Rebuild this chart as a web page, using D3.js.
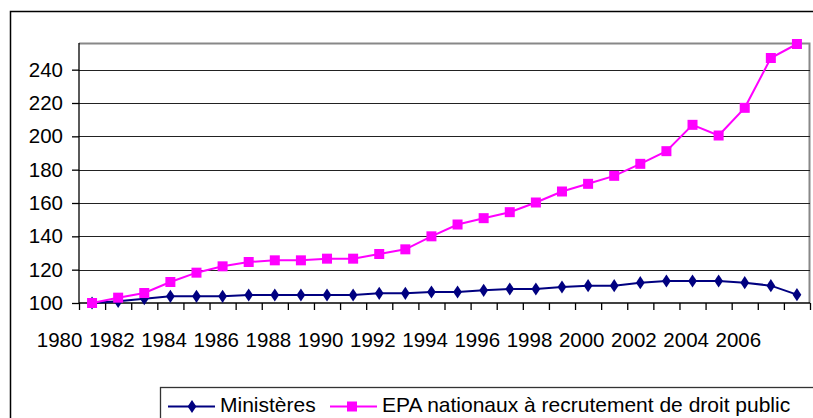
<!DOCTYPE html>
<html>
<head>
<meta charset="utf-8">
<title>Ministères / EPA</title>
<script src="https://cdn.jsdelivr.net/npm/d3@7"></script>
<style>
  body { margin: 0; background: #fff; }
  svg text { font-family: "Liberation Sans", Arial, sans-serif; fill: #000; }
</style>
</head>
<body>
<div id="chart"></div>
<script>
// categories (one per year)
var years = d3.range(1980, 2008);
// tick labels shown under the axis (every other year)
var yearLabels = years.filter(function(y, i) { return i % 2 == 0; });
var yTicks = [100, 120, 140, 160, 180, 200, 220, 240];

// series, index 100 at start
var ministeres = [100, 101, 102.6, 104, 104, 104, 104.8, 104.8, 104.8, 104.8, 104.8, 105.8, 105.8, 106.6,
  106.6, 107.6, 108.4, 108.4, 109.6, 110.4, 110.4, 112.2, 113.2, 113.2, 113.2, 112.2, 110.4, 105];
var epa = [100, 103.2, 106, 112.6, 118.2, 122, 124.6, 125.6, 125.6, 126.6, 126.6, 129.4, 132.2, 140,
  147.1, 150.9, 154.5, 160.3, 166.9, 171.5, 176.3, 183.5, 191.1, 206.9, 200.5, 217.1, 247, 255.4];
var seriesNames = ["Ministères", "EPA nationaux à recrutement de droit public"];

var W = 813, H = 418;
var pLeft = 79, pRight = 810, pTop = 43, pBottom = 303;

var svg = d3.select("#chart").append("svg")
  .attr("width", W).attr("height", H);

// outer frame of the chart object
svg.append("rect")
  .attr("x", 10.5).attr("y", 11.5)
  .attr("width", 840).attr("height", 440)
  .attr("fill", "none").attr("stroke", "#000").attr("stroke-width", 1.5);

var x = d3.scaleBand().domain(years).range([pLeft, pRight]);
var xEdge = d3.scaleLinear().domain([0, years.length]).range([pLeft, pRight]);
var y = d3.scaleLinear().domain([100, 256]).range([pBottom, pTop]);

function cx(d, i) { return x(years[i]) + x.bandwidth() / 2; }

// plot area border (grey on top / right)
svg.append("path")
  .attr("d", "M" + pLeft + "," + (pTop + 0.5) + "H" + (pRight - 0.5) + "V" + pBottom)
  .attr("fill", "none").attr("stroke", "#888").attr("stroke-width", 2);

// gridlines
svg.append("g").selectAll("line")
  .data(yTicks.slice(1))
  .join("line")
  .attr("x1", pLeft).attr("x2", pRight)
  .attr("y1", function(d) { return Math.round(y(d)) + 0.5; })
  .attr("y2", function(d) { return Math.round(y(d)) + 0.5; })
  .attr("stroke", "#222").attr("stroke-width", 1);

// y axis
var yAxis = svg.append("g")
  .attr("transform", "translate(" + pLeft + ",0)")
  .call(d3.axisLeft(y).tickValues(yTicks).tickSize(7).tickPadding(9));
yAxis.selectAll("text").style("font-size", "20.5px");
yAxis.selectAll("path, line").attr("stroke", "#000").attr("stroke-width", 1.3);
yAxis.select(".domain").attr("d", "M0," + pTop + "V" + pBottom);

// x axis: ticks between categories
var xAxis = svg.append("g")
  .attr("transform", "translate(0," + pBottom + ")")
  .call(d3.axisBottom(xEdge).tickValues(d3.range(years.length + 1)).tickSize(7).tickFormat(""));
xAxis.selectAll("path, line").attr("stroke", "#000").attr("stroke-width", 1.3);
xAxis.select(".domain").attr("d", "M" + pLeft + ",0H" + pRight);

// x labels
var xLab = svg.append("g")
  .attr("transform", "translate(0," + pBottom + ")")
  .call(d3.axisBottom(x).tickValues(yearLabels).tickSize(0).tickPadding(29));
xLab.select(".domain").remove();
xLab.selectAll("text").style("font-size", "20.5px").attr("dx", -32.5);

var line = d3.line().x(cx).y(function(d) { return y(d); });

// Ministères
svg.append("path").datum(ministeres)
  .attr("d", line).attr("fill", "none")
  .attr("stroke", "#000080").attr("stroke-width", 2);
svg.append("g").selectAll("path")
  .data(ministeres).join("path")
  .attr("d", d3.symbol(d3.symbolDiamond, 50))
  .attr("transform", function(d, i) { return "translate(" + cx(d, i) + "," + y(d) + ") scale(1.15,1)"; })
  .attr("fill", "#000080");

// EPA
svg.append("path").datum(epa)
  .attr("d", line).attr("fill", "none")
  .attr("stroke", "#ff00ff").attr("stroke-width", 2);
svg.append("g").selectAll("rect")
  .data(epa).join("rect")
  .attr("x", function(d, i) { return cx(d, i) - 5; })
  .attr("y", function(d) { return y(d) - 5; })
  .attr("width", 10).attr("height", 10)
  .attr("fill", "#ff00ff");

// legend
var lg = svg.append("g");
lg.append("rect")
  .attr("x", 160.5).attr("y", 387.5)
  .attr("width", 700).attr("height", 60)
  .attr("fill", "#fff").attr("stroke", "#333").attr("stroke-width", 1.3);

var legendItems = [
  { name: seriesNames[0], color: "#000080", x: 168, sym: "diamond" },
  { name: seriesNames[1], color: "#ff00ff", x: 330, sym: "square" }
];
var ly = 406.5;
legendItems.forEach(function(it) {
  lg.append("line")
    .attr("x1", it.x).attr("x2", it.x + 47)
    .attr("y1", ly).attr("y2", ly)
    .attr("stroke", it.color).attr("stroke-width", 2);
  if (it.sym == "diamond") {
    lg.append("path")
      .attr("d", d3.symbol(d3.symbolDiamond, 50))
      .attr("transform", "translate(" + (it.x + 24) + "," + ly + ") scale(1.15,1)")
      .attr("fill", it.color);
  } else {
    lg.append("rect")
      .attr("x", it.x + 22 - 5).attr("y", ly - 5)
      .attr("width", 10).attr("height", 10)
      .attr("fill", it.color);
  }
  lg.append("text")
    .attr("x", it.x + 52).attr("y", 411.5)
    .style("font-size", "21px")
    .text(it.name);
});
</script>
</body>
</html>
